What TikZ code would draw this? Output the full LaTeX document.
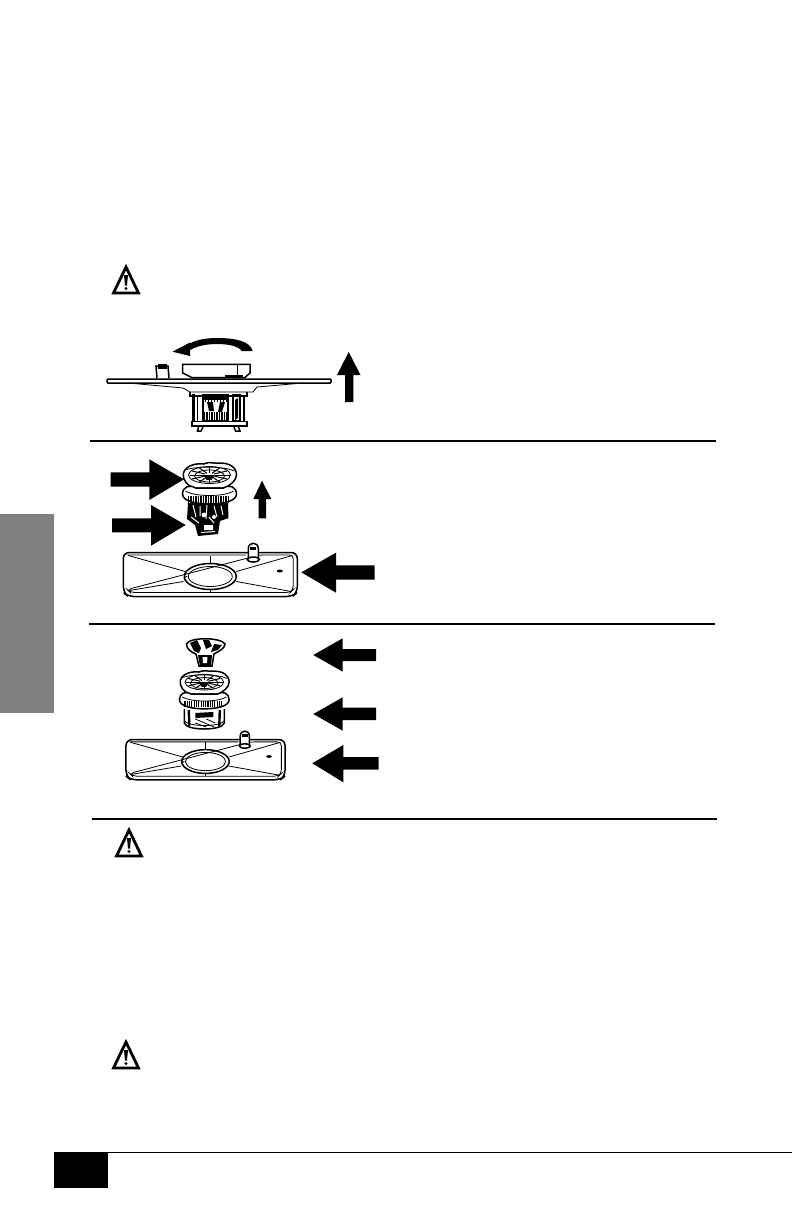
\documentclass[tikz,border=0pt]{standalone}
\tikzset{
  rulebar/.style={line width=2pt},
  blockarrow/.style={fill=black},
  partline/.style={line width=0.8pt},
  heavyline/.style={line width=1.5pt},
  warnmark/.pic={
    \draw[line width=2.8pt, line join=miter] (0,0) -- (12.5,26) -- (-12.5,26) -- cycle;
    \fill (-2,8) -- (2,8) -- (1,18.5) -- (-1,18.5) -- cycle;
    \fill (0,21.5) circle (1.6);
  },
  filterplate/.pic={
    \draw[heavyline, rounded corners=6pt] (-87,-22) -- (87,-22) -- (87,18) -- (82,22) -- (-82,22) -- (-87,18) -- cycle;
    \draw[partline, rounded corners=4pt] (-83,-19.5) -- (36,-19.5) (49,-19.5) -- (83,-19.5) -- (83,15) -- (80,18) -- (-80,18) -- (-83,15) -- cycle;
    \draw[heavyline] (0,2) ellipse (26 and 13);
    \draw[partline] (0,2) ellipse (22 and 10);
    % Ribs
    \draw[partline] (-25,-3) -- (-82,-19) (-27,7) -- (-81,16) (26,-3) -- (82,-19) (26,7) -- (81,17);
    \draw[partline] (0,-19) -- (0,-11) (0,15) -- (0,18);
    % Post
    \draw[heavyline, fill=white] (38,-15) -- (38,-26) .. controls (38,-33) and (48,-33) .. (48,-26) -- (48,-15);
    \draw[heavyline, fill=white] (43,-15) ellipse (6 and 2.5);
    \fill (40,-28) rectangle (46,-25);
    \fill (69.5,-3.5) ellipse (3 and 1.5);
    \draw[partline] (-24,6) arc (90:300:2);
  },
  filtercup/.pic={
    \draw[heavyline, fill=white] (-26,-4) .. controls (-24,-12) and (-12,-14) .. (-6,-13) .. controls (0,-16) and (6,-13) .. (10,-14)
      .. controls (20,-14) and (27,-10) .. (27,-2) .. controls (27,4) and (20,8) .. (16,11) -- (-16,11) .. controls (-22,8) and (-27,4) .. (-26,-4) -- cycle;
    \draw[partline] (-24,-7) .. controls (-14,-11) and (14,-11) .. (25,-6);
    \draw[partline] (0,-2) ellipse (21 and 8.5);
    \draw[partline] (0,-1) ellipse (15 and 6);
    \foreach \ang in {0,30,...,330}
      \draw[line width=1pt] ([shift={(0,-2)}]\ang:5 and 2) -- ([shift={(0,-2)}]\ang:20 and 8);
    \fill (-6,-2) -- (5,-2) -- (2,3) -- (-3,3) -- cycle;
    \draw[heavyline, fill=white] (-27,17) .. controls (-27,10) and (-20,7) .. (-14,11) -- (14,11) .. controls (20,7) and (27,10) .. (27,17) .. controls (27,24) and (14,27) .. (0,27) .. controls (-14,27) and (-27,24) .. (-27,17) -- cycle;
    \draw[partline] (-24,14) .. controls (-15,20) and (15,20) .. (24,14);
    \foreach \xpos in {-21,-18.5,...,21}
      \draw[line width=1.1pt] (\xpos,18.5) -- (\xpos,25.5);
  },
}
\begin{document}
\begin{tikzpicture}[x=1pt,y=-1pt]
\useasboundingbox (0,0) rectangle (792,1224);
% Side tab and footer
\fill[black!50] (0,514) rectangle (54,713);
\fill (54,1152) rectangle (108,1188);
\draw[line width=1pt] (54,1152) -- (792,1152);
% Rules
\draw[rulebar] (90,441) -- (716,441);
\draw[rulebar] (89,623.5) -- (715,623.5);
\draw[rulebar] (92,818.5) -- (717,818.5);
% Warning signs
\pic at (126,267) {warnmark};
\pic at (129,830) {warnmark};
\pic at (126,1042) {warnmark};
% Turning arrow
\fill (252.7,351) .. controls (250,341) and (235,338) .. (217,338) .. controls (205,338) and (196,340) .. (190,343.5)
  -- (190,342.5) -- (172.5,351.7) -- (190,356) -- (190,350) .. controls (198,345.5) and (208,344) .. (217,344) .. controls (228,344) and (238,346) .. (242,351) -- cycle;
% Spray arm
\draw[heavyline, rounded corners=1pt] (107,379) rectangle (331,383);
\draw[partline] (128,383) -- (183,388) -- (190,392) -- (253,392) -- (257,387) -- (303,383);
\draw[heavyline, fill=white] (182.7,364.3) -- (250,364.3) -- (250,373) -- (245,377.5) -- (191.7,377.5) -- (182.7,373) -- cycle;
\draw[partline] (237.3,364.3) -- (237.3,375);
\draw[line width=2pt] (225,375.5) -- (243,375.5);
\draw[heavyline] (157,378) -- (156,366) -- (168,366) -- (169,378);
\fill (158,364) rectangle (167,368.5);
% Arm hub
\draw[heavyline] (190,392) -- (190,396) -- (247,396) -- (247,392);
\draw[line width=2.8pt] (193.5,394) -- (193.5,421);
\draw[partline] (197.5,395) -- (197.5,421);
\draw[heavyline] (244,395) -- (244,421);
\draw[heavyline] (203,395) rectangle (228,421);
\fill (204,395) rectangle (227,399.5);
\foreach \xpos in {205,208,...,226}
  \draw[line width=0.7pt] (\xpos,395) -- (\xpos,402);
\fill (207,402) -- (209,411) -- (214,411) -- (213,402) -- cycle;
\fill (220,402) -- (225,402) -- (222,412) -- (218,412) -- cycle;
\foreach \xpos in {204.5,207,...,227}
  \draw[line width=1.1pt] (\xpos,412) -- (\xpos,421);
\draw[heavyline] (233,395) rectangle (240,421);
\fill (235,400) -- (238,398) -- (238,418) -- (235,420) -- cycle;
\draw[heavyline] (192,421.5) rectangle (247,426);
\draw[heavyline] (198.5,427) -- (197.5,431) -- (201,431) -- (203,427);
\draw[heavyline] (234,427) -- (235.5,431) -- (240,431) -- (238.5,427);
% Lift arrow
\fill[blockarrow] (345,402) -- (353.3,402) -- (353.3,375) -- (360.5,375) -- (348.7,352) -- (337,375) -- (345,375) -- cycle;
% Filter assembly
\pic at (209.5,477) {filtercup};
\begin{scope}[shift={(208,503)}]
  \fill (-20,0) -- (20,0) -- (20.5,15) -- (12,18) -- (10,31) -- (-10,33) -- (-13,22) -- (-21,16) -- cycle;
  \draw[white, line width=1pt] (-15,2) -- (-12,14) (-8,3) -- (-8,13) (-1,2) -- (-2,16) (6,3) -- (9,14) (13,3) -- (15,12) (-17,14) -- (-9,20) (1,14) -- (6,20);
  \fill[white] (-4,12) circle (2.4) (6,14) circle (2) (-4,22) rectangle (5,27);
  \draw[white, line width=1pt] (-7,29.5) -- (7,28.5);
\end{scope}
% Filter plate
\pic at (210.3,574.5) {filterplate};
\fill[blockarrow] (110.7,472.3) -- (149.3,472.3) -- (149.3,459.3) -- (184,479.3) -- (149.3,500) -- (149.3,486.7) -- (110.7,486.7) -- cycle;
\fill[blockarrow] (112,518.3) -- (151,518.3) -- (151,505) -- (185.7,525) -- (151,545.7) -- (151,532.3) -- (112,532.3) -- cycle;
\fill[blockarrow] (258.7,518.3) -- (266,518.3) -- (266,499) -- (271.3,499) -- (262,480.7) -- (253.3,499) -- (258.7,499) -- cycle;
\fill[blockarrow] (374.7,565.3) -- (336,565.3) -- (336,552.7) -- (301.3,572.3) -- (336,592.7) -- (336,579.7) -- (374.7,579.7) -- cycle;
% Coarse filter
\begin{scope}[shift={(205,650)}]
  \draw[heavyline, fill=white] (-18.5,-6) .. controls (-16,-13) and (16,-13) .. (20,-6) .. controls (20,-1) and (12,2) .. (9,4) -- (7,16) -- (-6,16) -- (-9,4) .. controls (-14,2) and (-18.5,-1) .. (-18.5,-6) -- cycle;
  \fill (-15,-7) -- (-8,-10) -- (-4,-2) -- (-6,3) -- (-11,1) -- cycle;
  \fill (-2,-10) -- (4,-10) -- (7,-4) -- (1,-1) -- cycle;
  \fill (9,-6) -- (17,-5) -- (13,0) -- (6,2) -- cycle;
  \fill (-7,5) -- (7,5) -- (6,16) -- (-5,16) -- cycle;
  \fill[white] (-2.5,7) -- (2.5,7) -- (2,13) -- (-2,13) -- cycle;
\end{scope}
% Fine filter
\pic[scale=0.92] at (204.3,684) {filtercup};
\begin{scope}[shift={(204.3,683)}]
  \draw[heavyline] (-20,26) -- (-20,40) .. controls (-18,48) and (18,48) .. (20,40) -- (20,26);
  \draw[line width=2.4pt] (-15.5,27) -- (-15,43) (15.5,27) -- (15,43);
  \draw[partline] (-20,38) .. controls (-15,44) and (15,44) .. (20,38);
  \fill (-9,30) -- (9,29) -- (9,34) -- (-9,35) -- cycle;
  \draw[partline] (-9,36) -- (10,44) (-9,40) -- (2,44) (2,36) -- (11,40);
\end{scope}
% Filter plate
\pic[scale=0.914] at (205.5,759.7) {filterplate};
\fill[blockarrow] (376,649) -- (342.7,649) -- (342.7,638.3) -- (313.3,655) -- (342.7,671.7) -- (342.7,661) -- (376,661) -- cycle;
\fill[blockarrow] (376,707.7) -- (342.7,707.7) -- (342.7,697.3) -- (313.3,714) -- (342.7,730.7) -- (342.7,720) -- (376,720) -- cycle;
\fill[blockarrow] (378.7,757) -- (343.3,757) -- (343.3,745) -- (312.3,763.3) -- (343.3,782.3) -- (343.3,769.7) -- (378.7,769.7) -- cycle;
\end{tikzpicture}
\end{document}
